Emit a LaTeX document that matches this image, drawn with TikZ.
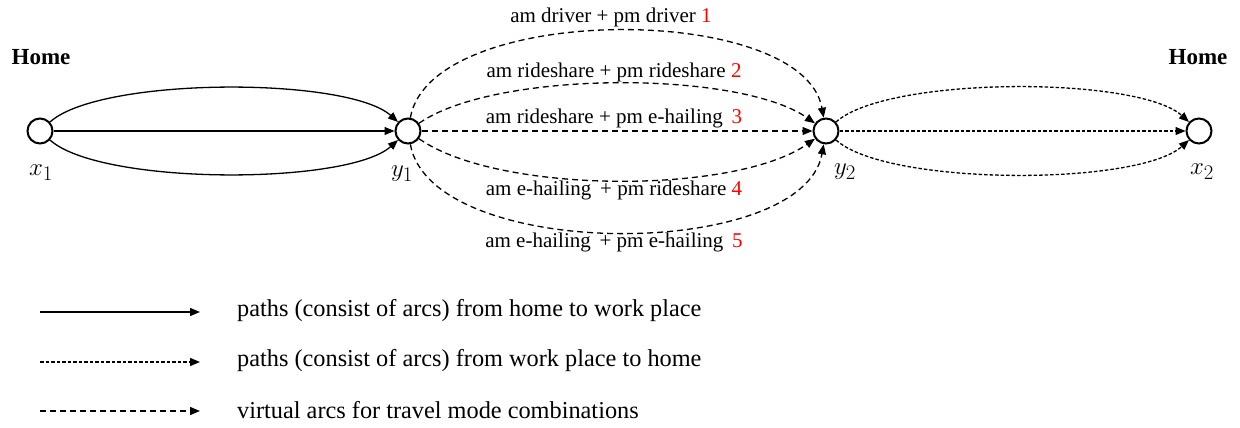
\documentclass[tikz,border=0pt]{standalone}
\usepackage{fontspec}
\setmainfont{Liberation Serif}
\usetikzlibrary{arrows.meta}
\begin{document}
\begin{tikzpicture}[x=1pt,y=1pt,
  vert/.style={circle,draw,line width=2pt,minimum size=25pt,inner sep=0pt,fill=white},
  arc/.style={line width=1.3pt,-{Triangle[length=10pt,width=8pt]}},
  virt/.style={arc,dash pattern=on 6pt off 4pt},
  back/.style={arc,dash pattern=on 3.5pt off 2pt},
  lbl/.style={font=\fontsize{21}{24}\selectfont,inner sep=0pt},
  leg/.style={font=\fontsize{24.3}{28}\selectfont,inner sep=0pt,anchor=west},
  mlbl/.style={font=\fontsize{30}{34}\selectfont,inner sep=0pt},
  hm/.style={font=\fontsize{23}{26}\selectfont\bfseries,inner sep=0pt}]
\path[use as bounding box] (0,0) rectangle (1240,-428);
\node[vert] (x1) at (40,-131) {};
\node[vert] (y1) at (408,-131) {};
\node[vert] (y2) at (826,-131) {};
\node[vert] (x2) at (1199,-131) {};
\node[mlbl] (lx1) at (41,-173) {$x_1$};
\node[mlbl] (ly1) at (402,-174) {$y_1$};
\node[mlbl] (ly2) at (845,-172) {$y_2$};
\node[mlbl] (lx2) at (1202,-172) {$x_2$};
\node[hm] (h1) at (41,-57) {Home};
\node[hm] (h2) at (1198,-57) {Home};
% home to work
\draw[arc] (x1) to[out=42,in=138,looseness=0.5] (y1);
\draw[arc] (x1) -- (y1);
\draw[arc] (x1) to[out=-42,in=-138,looseness=0.5] (y1);
% virtual arcs
\draw[virt] (y1) to[out=80,in=100,looseness=0.73] (y2);
\draw[virt] (y1) to[out=35,in=145,looseness=0.6] (y2);
\draw[virt] (y1) -- (y2);
\draw[virt] (y1) to[out=-35,in=-145,looseness=0.63] (y2);
\draw[virt] (y1) to[out=-80,in=-100,looseness=0.74] (y2);
% work to home
\draw[back] (y2) to[out=42,in=138,looseness=0.5] (x2);
\draw[back] (y2) -- (x2);
\draw[back] (y2) to[out=-42,in=-138,looseness=0.5] (x2);
% arc labels
\node[lbl] (t1) at (611,-17) {am driver + pm driver \textcolor{red}{1}};
\node[lbl] (t2) at (614,-72) {am rideshare + pm rideshare \textcolor{red}{2}};
\node[lbl] (t3) at (614,-118) {am rideshare + pm e-hailing\, \textcolor{red}{3}};
\node[lbl] (t4) at (614,-190) {am e-hailing\, + pm rideshare \textcolor{red}{4}};
\node[lbl] (t5) at (614,-242) {am e-hailing\, + pm e-hailing\, \textcolor{red}{5}};
% legend
\coordinate (a1) at (40,-312); \coordinate (b1) at (200,-312);
\coordinate (a2) at (40,-362); \coordinate (b2) at (200,-362);
\coordinate (a3) at (40,-411); \coordinate (b3) at (200,-411);
\draw[arc] (a1) -- (b1);
\draw[back] (a2) -- (b2);
\draw[virt] (a3) -- (b3);
\node[leg] (l1) at (237,-311) {paths (consist of arcs) from home to work place};
\node[leg] (l2) at (237,-361) {paths (consist of arcs) from work place to home};
\node[leg] (l3) at (237,-410) {virtual arcs for travel mode combinations};
\end{tikzpicture}
\end{document}
